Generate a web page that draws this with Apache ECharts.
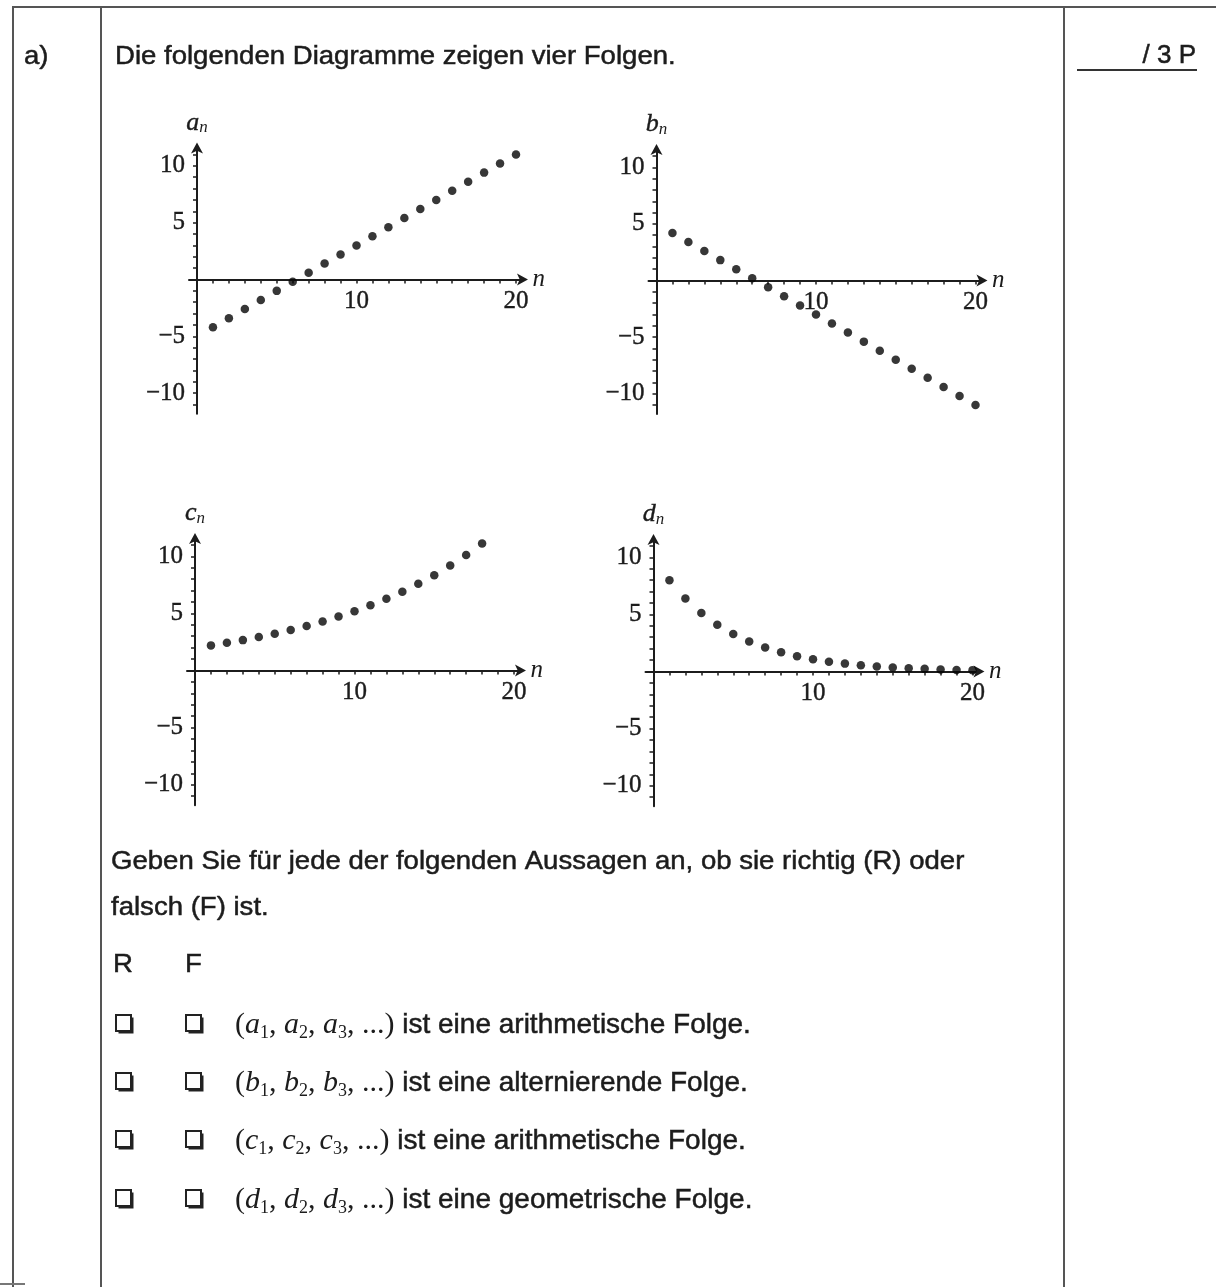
<!DOCTYPE html>
<html><head><meta charset="utf-8">
<script src="https://cdn.jsdelivr.net/npm/echarts@6/dist/echarts.min.js"></script>
<style>html,body{margin:0;padding:0;background:#fff}#c{width:1216px;height:1287px}</style>
</head><body><div id="c"></div>
<script>
// ---- data ----
const nVals = [1,2,3,4,5,6,7,8,9,10,11,12,13,14,15,16,17,18,19,20];
const aVals = [-4.2,-3.4,-2.6,-1.8,-1.0,-0.2,0.6,1.4,2.2,3.0,3.8,4.6,5.4,6.2,7.0,7.8,8.6,9.4,10.2,11.0];
const bVals = [4.2,3.4,2.6,1.8,1.0,0.2,-0.6,-1.4,-2.2,-3.0,-3.8,-4.6,-5.4,-6.2,-7.0,-7.8,-8.6,-9.4,-10.2,-11.0];
const cVals = [2.2,2.42,2.66,2.93,3.22,3.54,3.9,4.29,4.72,5.19,5.71,6.28,6.9,7.6,8.35,9.19,10.11,11.12];
const dVals = [8.0,6.4,5.12,4.1,3.28,2.62,2.1,1.68,1.34,1.07,0.86,0.69,0.55,0.44,0.35,0.28,0.23,0.18,0.14,0.12];
const xTickVals = [0,1,2,3,4,5,6,7,8,9,10,11,12,13,14,15,16,17,18,19,20];
const xLabelVals = [10,20];
const yTickVals = [-11,-10,-9,-8,-7,-6,-5,-4,-3,-2,-1,0,1,2,3,4,5,6,7,8,9,10,11];
const yLabelVals = [-10,-5,5,10];
const seqNames = ['a','b','c','d'];
const seqData = [aVals,bVals,cVals,dVals];
const introText = 'Die folgenden Diagramme zeigen vier Folgen.';
const taskLine1 = 'Geben Sie für jede der folgenden Aussagen an, ob sie richtig (R) oder';
const taskLine2 = 'falsch (F) ist.';
const statementTails = ['ist eine arithmetische Folge.','ist eine alternierende Folge.','ist eine arithmetische Folge.','ist eine geometrische Folge.'];

// ---- layout ----
const X_MIN=-0.5, X_MAX=20.5, Y_MIN=-11.8, Y_MAX=11.7;
const panels = [
  {ox:197, oy:279.5, sx:15.95, sy:11.37},
  {ox:656.5, oy:280.5, sx:15.95, sy:11.32},
  {ox:195, oy:670.5, sx:15.95, sy:11.42},
  {ox:653.5, oy:671.5, sx:15.95, sy:11.42}
];
const INK='#1c1c1c';
const DOT='#050505';
const SERIF='Liberation Serif';
const SANS='Liberation Sans';

const grids=[],xAxes=[],yAxes=[],series=[];
panels.forEach((p,i)=>{
  grids.push({left:p.ox+X_MIN*p.sx, top:p.oy-Y_MAX*p.sy, width:(X_MAX-X_MIN)*p.sx, height:(Y_MAX-Y_MIN)*p.sy, containLabel:false});
  xAxes.push({type:'value', gridIndex:i, min:X_MIN, max:X_MAX, position:'bottom', offset:Y_MIN*p.sy,
    axisLine:{onZero:false, lineStyle:{color:INK,width:2}, symbol:['none','arrow'], symbolSize:[9,11], symbolOffset:[0,4]},
    axisTick:{show:true, customValues:xTickVals, length:4, lineStyle:{color:INK,width:1.5}},
    axisLabel:{customValues:xLabelVals, color:INK, fontFamily:SERIF, fontSize:25, margin:9, textBorderColor:INK, textBorderWidth:0.4},
    splitLine:{show:false},
    name:'n', nameLocation:'end', nameGap:8,
    nameTextStyle:{fontFamily:SERIF, fontStyle:'italic', fontSize:25, color:INK, verticalAlign:'middle', padding:[0,0,6,0]}
  });
  yAxes.push({type:'value', gridIndex:i, min:Y_MIN, max:Y_MAX, position:'left', offset:X_MIN*p.sx,
    axisLine:{onZero:false, lineStyle:{color:INK,width:2}, symbol:['none','arrow'], symbolSize:[9,11], symbolOffset:[0,4]},
    axisTick:{show:true, customValues:yTickVals, length:4, lineStyle:{color:INK,width:1.5}},
    axisLabel:{customValues:yLabelVals, color:INK, fontFamily:SERIF, fontSize:25, margin:12, textBorderColor:INK, textBorderWidth:0.4,
      formatter:v=>String(v).replace('-','\u2212')},
    splitLine:{show:false},
    name:'{v|'+seqNames[i]+'}{s|n}', nameLocation:'end', nameGap:10,
    nameTextStyle:{align:'center', rich:{
      v:{fontFamily:SERIF, fontStyle:'italic', fontSize:26, color:INK, textBorderColor:INK, textBorderWidth:0.4},
      s:{fontFamily:SERIF, fontStyle:'italic', fontSize:17, color:INK, verticalAlign:'bottom', padding:[10,0,0,0]}
    }}
  });
  series.push({type:'scatter', xAxisIndex:i, yAxisIndex:i, symbol:'circle', symbolSize:8.5,
    itemStyle:{color:DOT}, silent:true,
    data:seqData[i].map((v,k)=>[nVals[k],v])});
});

// ---- page furniture ----
const g=[];
function line(x1,y1,x2,y2,w,c){g.push({type:'line',silent:true,shape:{x1,y1,x2,y2},style:{stroke:c||'#444',lineWidth:w||2}});}
function text(t,x,y,size,opts){
  g.push(Object.assign({type:'text',silent:true,x,y,scaleX:1.06,
    style:Object.assign({text:t,fontFamily:SANS,fontSize:size,fill:INK,stroke:INK,lineWidth:0.5,textVerticalAlign:'middle'},opts&&opts.style||{})},opts&&opts.el||{}));
}
line(12,7,1216,7,2,'#555');
line(13,7,13,1287,2,'#555');
line(101,7,101,1287,2,'#555');
line(1064,7,1064,1287,2,'#555');
line(0,1284,25,1284,2,'#777');
text('a)',24,57,26);
text(introText,115,57,26);
text('/ 3 P',1196,56,26,{style:{textAlign:'right'},el:{scaleX:1,originX:1196}});
line(1077,70,1197,70,2,'#333');
text(taskLine1,111,862,26);
text(taskLine2,111,908,26);
text('R',113,965,26);
text('F',185,965,26);
const rowY=[1024,1082,1140,1199];
rowY.forEach((y,i)=>{
  [116,186].forEach(x=>{
    g.push({type:'rect',silent:true,shape:{x:x+2.5,y:y-6.5,width:15,height:16},style:{fill:'#222'}});
    g.push({type:'rect',silent:true,shape:{x:x,y:y-9,width:15,height:16},style:{fill:'#fff',stroke:'#222',lineWidth:2}});
  });
  const s=seqNames[i];
  const rt='{p|(}{v|'+s+'}{s|1}{p|, }{v|'+s+'}{s|2}{p|, }{v|'+s+'}{s|3}{p|, ...)}{t| '+statementTails[i]+'}';
  g.push({type:'text',silent:true,x:235,y:y+1,style:{text:rt,fill:INK,textVerticalAlign:'middle',rich:{
    p:{fontFamily:SERIF,fontSize:30,fill:INK,lineHeight:34},
    v:{fontFamily:SERIF,fontStyle:'italic',fontSize:30,fill:INK,lineHeight:34},
    s:{fontFamily:SERIF,fontSize:18,fill:INK,verticalAlign:'bottom',lineHeight:34},
    t:{fontFamily:SANS,fontSize:28,fill:INK,stroke:INK,lineWidth:0.5,lineHeight:34}
  }}});
});

const chart=echarts.init(document.getElementById('c'),null,{renderer:'canvas'});
chart.setOption({animation:false, backgroundColor:'#fff', grid:grids, xAxis:xAxes, yAxis:yAxes, series, graphic:g});
</script></body></html>
